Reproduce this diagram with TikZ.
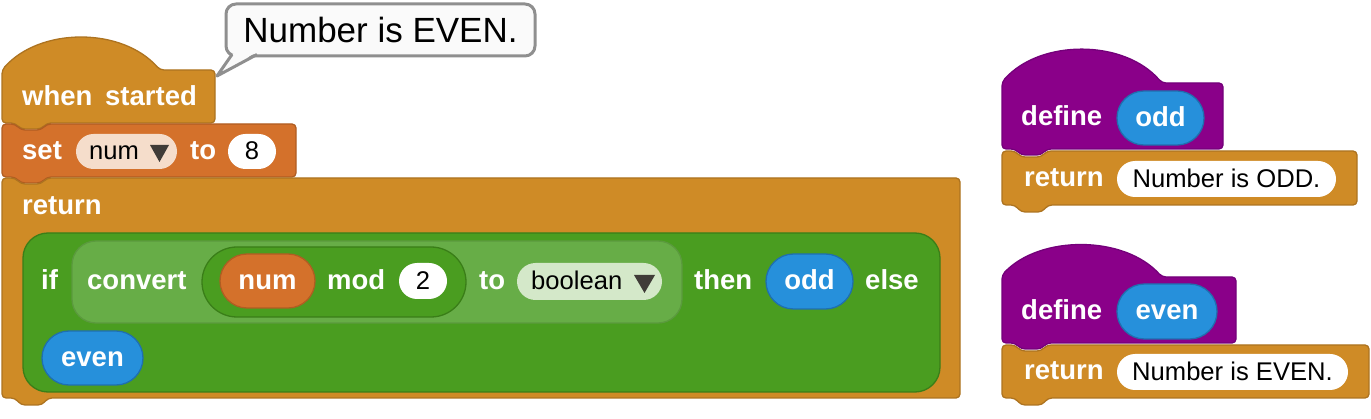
\documentclass[tikz,border=0pt]{standalone}
\usepackage{fontspec}
\setmainfont{Liberation Sans}
\usetikzlibrary{shapes.misc}
\definecolor{ctrl}{HTML}{CF8B26}
\definecolor{ctrlline}{HTML}{AD7320}
\definecolor{vars}{HTML}{D4712B}
\definecolor{varsline}{HTML}{B05D22}
\definecolor{other}{HTML}{8A0089}
\definecolor{otherline}{HTML}{74007A}
\definecolor{param}{HTML}{2690DB}
\definecolor{paramline}{HTML}{1F6FAF}
\definecolor{oper}{HTML}{4A9D20}
\definecolor{operline}{HTML}{3A7E18}
\definecolor{operlight}{HTML}{67AD47}
\definecolor{operlightline}{HTML}{5B9A3E}
\definecolor{peach}{HTML}{F5DDCB}
\definecolor{palegreen}{HTML}{D4E8C9}
\definecolor{arrowc}{HTML}{403C38}
\definecolor{bubblefill}{HTML}{FAFAFA}
\definecolor{bubbleline}{HTML}{8F8F8F}
\begin{document}
\begin{tikzpicture}[x=1pt,y=-1pt,
    every node/.style={inner sep=0pt},
    lbl/.style={font=\fontsize{27.5}{30}\selectfont\bfseries, text=white, anchor=base west},
    val/.style={font=\fontsize{25.6}{30}\selectfont, text=black, anchor=base west},
    block/.style={line width=1.3pt, rounded corners=4pt},
    pill/.style={shape=rounded rectangle, line width=1.3pt, text height=17pt, text depth=0pt,
        font=\fontsize{27.5}{30}\selectfont\bfseries, text=white},
    slot/.style={shape=rounded rectangle, text height=17pt, text depth=0pt,
        font=\fontsize{25.6}{30}\selectfont, text=black}]
    \useasboundingbox (0,0) rectangle (1371,419);

    % Main script
    \filldraw[block, fill=ctrl, draw=ctrlline] (2,70) .. controls (40,27) and (122,27) .. (160,70) -- (215,70) -- (215,123)
        -- (47,123) -- (41,129) -- (21,129) -- (15,123) -- (2,123) -- cycle;
    \node[lbl] (when) at (22,106) {when};
    \node[lbl] (started) at (105,106) {started};

    \filldraw[block, fill=vars, draw=varsline] (2,124) -- (15,124) -- (21,130) -- (41,130) -- (47,124) -- (296,124) -- (296,177)
        -- (47,177) -- (41,183) -- (21,183) -- (15,177) -- (2,177) -- cycle;
    \node[lbl] (set) at (22,160) {set};
    \node[slot, fill=peach, minimum width=101pt, minimum height=35pt] (setslot) at (126.5,151.5) {};
    \node[val] (setvar) at (89,160) {num};
    \fill[arrowc] (150,145) -- (169,145) -- (159.5,162) -- cycle;
    \node[lbl] (setto) at (190,160) {to};
    \node[slot, fill=white, minimum width=48pt, minimum height=35pt] (eight) at (252,151.5) {8};

    \filldraw[block, fill=ctrl, draw=ctrlline] (2,178) -- (15,178) -- (21,184) -- (41,184) -- (47,178) -- (960,178) -- (960,398)
        -- (48,398) -- (42,405) -- (21,405) -- (15,398) -- (2,398) -- cycle;
    \node[lbl] (ret) at (22,215) {return};

    % If-then-else reporter
    \filldraw[fill=oper, draw=operline, line width=1.3pt, rounded corners=25pt] (23,233) rectangle (940,392);
    \node[lbl] (ifkw) at (41,290) {if};
    \filldraw[fill=operlight, draw=operlightline, line width=1.3pt, rounded corners=24pt] (72,241) rectangle (682,323);
    \node[lbl] (convert) at (87,290) {convert};
    \node[pill, fill=oper, draw=operline, minimum width=264pt, minimum height=70pt] (modblock) at (334,282) {};
    \node[pill, fill=vars, draw=varsline, minimum width=95pt, minimum height=54pt] (modvar) at (267.5,281) {num};
    \node[lbl] (mod) at (327,290) {mod};
    \node[slot, fill=white, minimum width=48pt, minimum height=36pt] (two) at (423,281) {2};
    \node[lbl] (tokw) at (479,290) {to};
    \node[slot, fill=palegreen, minimum width=145pt, minimum height=37pt] (boolslot) at (589.5,281.5) {};
    \node[val] (boolean) at (531,290) {boolean};
    \fill[arrowc] (634,275) -- (655,275) -- (644.5,293) -- cycle;
    \node[lbl] (then) at (694,290) {then};
    \node[pill, fill=param, draw=paramline, minimum width=87pt, minimum height=55pt] (odd) at (809.5,281.5) {odd};
    \node[lbl] (else) at (865,290) {else};
    \node[pill, fill=param, draw=paramline, minimum width=101pt, minimum height=54pt] (even) at (92.5,358) {even};

    % Speech bubble
    \node[draw=bubbleline, fill=bubblefill, line width=3pt, rounded corners=10pt, minimum width=309pt, minimum height=52pt,
        anchor=north west, font=\fontsize{35}{40}\selectfont] (bubble) at (224.5,2.5) {Number is EVEN.};
    \coordinate (tip) at (217,76);
    \fill[bubblefill] (234,53) -- (tip) -- (255,53) -- cycle;
    \draw[bubbleline, line width=3pt, line join=round] (232,54.5) -- (tip) -- (257,54.5);

    % Define odd
    \filldraw[block, fill=other, draw=otherline] (1002,82) .. controls (1040,39) and (1124,39) .. (1162,83) -- (1223,83) -- (1223,149)
        -- (1047,149) -- (1041,155) -- (1021,155) -- (1015,149) -- (1002,149) -- cycle;
    \node[lbl] (defodd) at (1021,126) {define};
    \node[pill, fill=param, draw=paramline, minimum width=87pt, minimum height=54pt] (oddname) at (1160.5,118) {odd};
    \filldraw[block, fill=ctrl, draw=ctrlline] (1002,151) -- (1015,151) -- (1021,157) -- (1041,157) -- (1047,151) -- (1357,151) -- (1357,205)
        -- (1048,205) -- (1042,212) -- (1021,212) -- (1015,205) -- (1002,205) -- cycle;
    \node[lbl] (retodd) at (1024,187) {return};
    \node[slot, fill=white, minimum width=219pt, minimum height=36pt] (oddtext) at (1226.5,179) {Number is ODD.};

    % Define even
    \filldraw[block, fill=other, draw=otherline] (1002,275) .. controls (1040,235) and (1124,235) .. (1162,277) -- (1236,277) -- (1236,343)
        -- (1047,343) -- (1041,349) -- (1021,349) -- (1015,343) -- (1002,343) -- cycle;
    \node[lbl] (defeven) at (1021,320) {define};
    \node[pill, fill=param, draw=paramline, minimum width=100pt, minimum height=55pt] (evenname) at (1167,311.5) {even};
    \filldraw[block, fill=ctrl, draw=ctrlline] (1002,345) -- (1015,345) -- (1021,351) -- (1041,351) -- (1047,345) -- (1369,345) -- (1369,398)
        -- (1048,398) -- (1042,405) -- (1021,405) -- (1015,398) -- (1002,398) -- cycle;
    \node[lbl] (reteven) at (1024,380) {return};
    \node[slot, fill=white, minimum width=231pt, minimum height=36pt] (eventext) at (1232.5,372) {Number is EVEN.};
\end{tikzpicture}
\end{document}
